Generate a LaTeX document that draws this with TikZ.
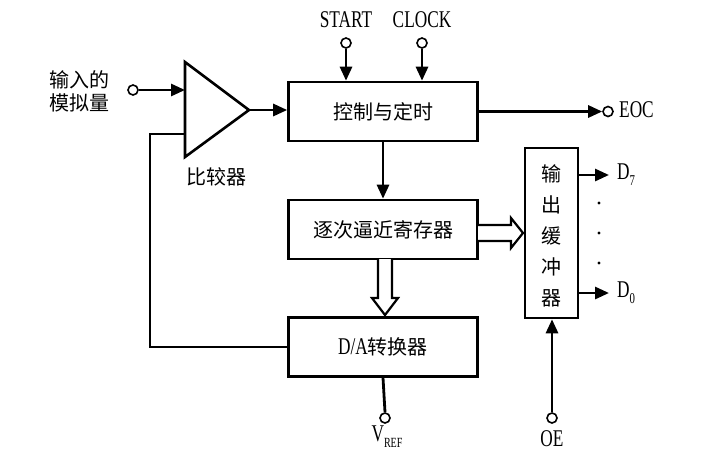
\documentclass[tikz,border=0pt]{standalone}
\usepackage{fontspec}
\newfontfamily\cjk{Noto Sans CJK SC}
\newfontfamily\lat[FakeStretch=0.72]{Liberation Serif}
\usetikzlibrary{arrows.meta}
\begin{document}
\begin{tikzpicture}[x=1pt,y=-1pt,
  wire/.style={line width=2.8pt},
  tip/.style={-{Triangle[length=14pt,width=12pt]}},
  blk/.style={draw,line width=2.6pt,minimum width=189pt,minimum height=59pt,inner sep=0pt,font=\cjk\fontsize{20}{24}\selectfont},
  pinc/.style={circle,draw,line width=1.6pt,fill=white,minimum size=10pt,inner sep=0pt},
  cjklab/.style={font=\cjk\fontsize{20}{31}\selectfont,inner sep=0pt,align=center},
  latlab/.style={font=\lat\fontsize{24}{26}\selectfont,inner sep=0pt},
  hollow/.style={draw,line width=2.2pt,fill=white,line join=miter}]
\useasboundingbox (0,0) rectangle (708,464);
\fill[white] (0,0) rectangle (708,464);
% blocks
\node[blk] (ctrl) at (383,111.5) {控制与定时};
\node[blk] (reg) at (383,229.5) {逐次逼近寄存器};
\node[blk] (da) at (383,347) {{\lat\fontsize{24}{26}\selectfont D/A}转换器};
\node[draw,line width=2.6pt,minimum width=53pt,minimum height=170pt,inner sep=0pt] (buf) at (551.5,233) {};
\node[cjklab] (buftxt) at (551.5,236) {输\\出\\缓\\冲\\器};
% comparator
\coordinate (cl1) at (185,62);
\coordinate (cl2) at (185,157);
\coordinate (ctip) at (249,110);
\coordinate (cin) at (185,90);
\coordinate (cfb) at (185,134);
\draw[line width=2.6pt,line join=miter] (cl1) -- (ctip) -- (cl2) -- cycle;
\node[cjklab] (cmplab) at (216,177) {比较器};
% input
\node[cjklab] (inlab) at (79,91) {输入的\\[-8pt]模拟量};
\node[pinc] (inpin) at (133,90) {};
\draw[wire,tip] (inpin.east) -- (cin);
\draw[wire,tip] (ctip) -- (ctip -| ctrl.west);
% feedback
\coordinate (fb1) at (150,134);
\draw[wire,line join=miter] (cfb) -- (fb1) -- (fb1 |- da.west) -- (da.west);
% START / CLOCK
\node[pinc] (start) at (346,43) {};
\node[pinc] (clock) at (422,43) {};
\node[latlab] (startlab) at (346,20) {START};
\node[latlab] (clocklab) at (422,20) {CLOCK};
\draw[wire,tip] (start.south) -- (start |- ctrl.north);
\draw[wire,tip] (clock.south) -- (clock |- ctrl.north);
% EOC
\node[pinc] (eoc) at (608,111.5) {};
\node[latlab,anchor=west] (eoclab) at (619,110) {EOC};
\draw[wire,tip] (ctrl.east) -- (eoc.west);
% control -> register
\draw[wire,tip] (ctrl.south) -- (reg.north);
% hollow arrow register -> D/A
\draw[hollow] (378,259) -- (378,298) -- (372,298) -- (385,315) -- (398,298) -- (392,298) -- (392,259);
% hollow arrow register -> buffer
\draw[hollow] (478,225) -- (511,225) -- (511,218) -- (523,233) -- (511,248) -- (511,241) -- (478,241);
% outputs
\coordinate (d7) at (609,175);
\coordinate (d0) at (609,293);
\draw[wire,tip] (buf.east |- d7) -- (d7);
\draw[wire,tip] (buf.east |- d0) -- (d0);
\node[latlab,anchor=west] (d7lab) at (617,175) {D\raisebox{-6pt}{\fontsize{15}{15}\lat 7}};
\node[latlab,anchor=west] (d0lab) at (617,293) {D\raisebox{-6pt}{\fontsize{15}{15}\lat 0}};
\fill (599,203) circle (1.6pt);
\fill (599,233) circle (1.6pt);
\fill (599,263) circle (1.6pt);
% OE
\node[pinc] (oe) at (552,418) {};
\node[latlab] (oelab) at (552,439) {OE};
\draw[wire,tip] (oe.north) -- (oe |- buf.south);
% VREF
\node[pinc] (vref) at (385,418) {};
\node[latlab,anchor=north] (vreflab) at (387,426) {V\raisebox{-6pt}{\fontsize{14}{14}\lat REF}};
\draw[wire] (da.south) -- (vref.north);
\end{tikzpicture}
\end{document}
